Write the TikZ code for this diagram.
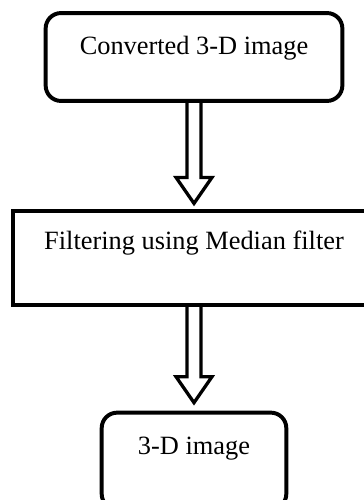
\documentclass[tikz,border=0pt]{standalone}
\usepackage{fontspec}
\setmainfont{Liberation Serif}
\usetikzlibrary{calc}
% hollow block arrow from point #1 down to point #2
\newcommand{\hollowarrow}[2]{%
  \draw[arrowline] ($(#1)+(-7,0)$) -- ($(#2)+(-7,-34)$) -- ($(#2)+(-18,-34)$)
    -- ($(#2)+(0,-8)$) -- ($(#2)+(18,-34)$) -- ($(#2)+(7,-34)$) -- ($(#1)+(7,0)$);}
\begin{document}
\begin{tikzpicture}[x=0.455pt, y=-0.455pt,
  every node/.style={font=\fontsize{12}{14}\selectfont, inner sep=0pt},
  box/.style={draw, line width=1.8pt},
  roundbox/.style={box, rounded corners=7pt},
  arrowline/.style={line width=1.5pt, line join=miter}]
  \useasboundingbox (0,0) rectangle (364,500);
  \clip (0,0) rectangle (364,500);
  \node[roundbox, minimum width=135pt, text height=19pt, text depth=21pt] (conv) at (194,57) {Converted 3-D image};
  % the filter box runs off the right edge: no right side
  \node[minimum width=164pt, text height=17pt, text depth=25pt] (filt) at (194,258) {Filtering using Median filter};
  \draw[box] ([xshift=20pt]filt.north east) -- (filt.north west) -- (filt.south west) -- ([xshift=20pt]filt.south east);
  \node[roundbox, minimum width=84pt, text height=19pt, text depth=25pt] (img) at (194,461) {3-D image};
  \hollowarrow{conv.south}{filt.north}
  \hollowarrow{filt.south}{img.north}
\end{tikzpicture}
\end{document}
